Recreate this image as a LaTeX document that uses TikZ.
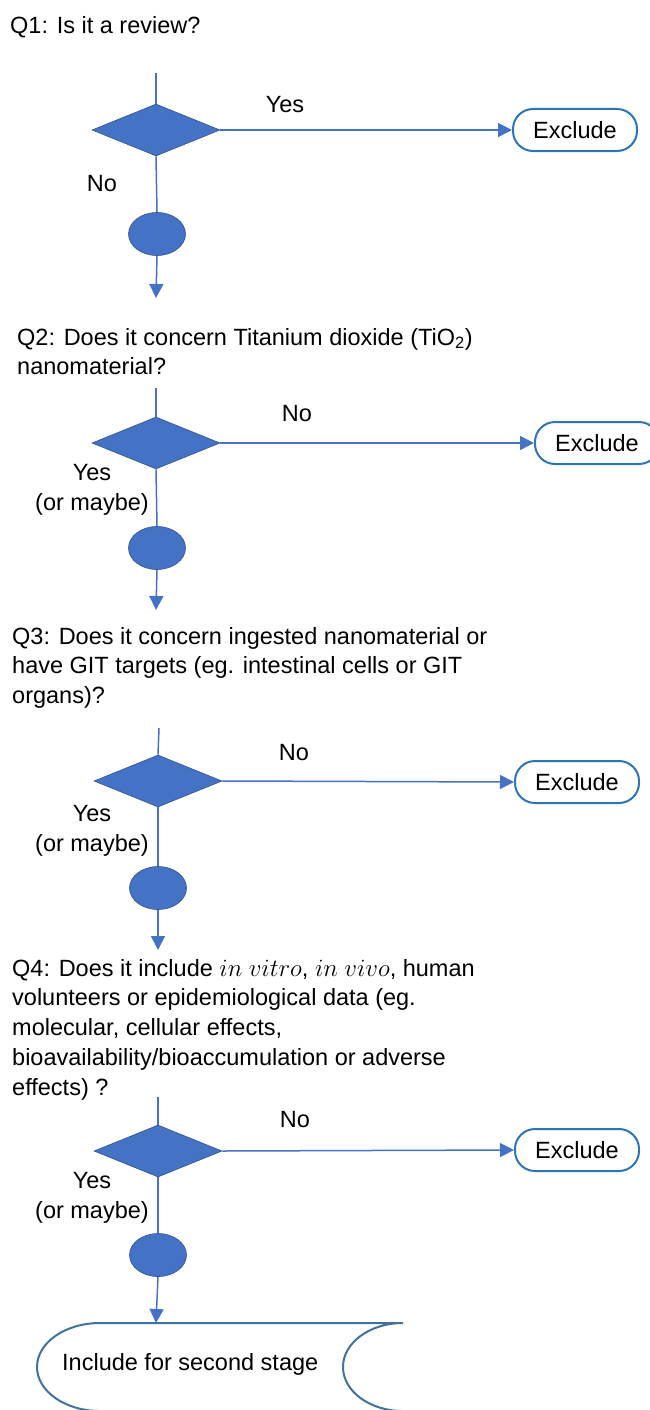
\documentclass[tikz,border=0pt]{standalone}
\usepackage{fontspec}
\setmainfont{Liberation Sans}
\usetikzlibrary{shapes.geometric,arrows.meta}
\definecolor{fillblue}{HTML}{4472C4}
\definecolor{darkblue}{HTML}{2F528F}
\definecolor{exblue}{HTML}{2E75B6}
\definecolor{stblue}{HTML}{41719C}
\begin{document}
\begin{tikzpicture}[x=1pt,y=-1pt,
  every node/.style={font=\fontsize{23.5}{29.7}\selectfont},
  qtext/.style={anchor=north west,inner sep=0pt,align=left},
  decision/.style={diamond,fill=fillblue,draw=darkblue,line width=0.6pt,inner sep=0pt,aspect=2.46,minimum width=128pt,minimum height=52pt},
  junction/.style={ellipse,fill=fillblue,draw=darkblue,line width=0.6pt,inner sep=0pt,minimum width=57pt,minimum height=43pt},
  exclude/.style={rectangle,rounded corners=20pt,draw=exblue,line width=2pt,fill=white,minimum width=124pt,minimum height=42pt,inner sep=0pt},
  lbl/.style={inner sep=0pt,align=center},
  conn/.style={draw=fillblue,line width=1.5pt},
  arr/.style={conn,-{Triangle[length=14pt,width=14pt]}}]
\path[use as bounding box] (0,0) rectangle (650,1410);
\clip (0,0) rectangle (650,1410);

% Q1
\node[qtext] (q1) at (10,16) {Q1: Is it a review?};
\coordinate (t1) at (156,73);
\node[decision] (d1) at (156,130) {};
\node[junction] (c1) at (157,234) {};
\coordinate (e1) at (156,298);
\node[exclude] (x1) at (575,130) {Exclude};
\node[lbl] (y1) at (285,105) {Yes};
\node[lbl] (n1) at (102,184) {No};
\draw[conn] (t1) -- (d1.north);
\draw[conn] (d1.south) -- (c1.north);
\draw[arr] (c1.south) -- (e1);
\draw[arr] (d1.east) -- (x1.west);

% Q2
\node[qtext] (q2) at (17,328) {Q2: Does it concern Titanium dioxide (TiO\textsubscript{2})\\nanomaterial?};
\coordinate (t2) at (156,388);
\node[decision] (d2) at (156,443) {};
\node[junction] (c2) at (157,548) {};
\coordinate (e2) at (156,610);
\node[exclude] (x2) at (597,443) {Exclude};
\node[lbl] (n2) at (297,414) {No};
\node[lbl] (y2) at (92,490) {Yes\\(or maybe)};
\draw[conn] (t2) -- (d2.north);
\draw[conn] (d2.south) -- (c2.north);
\draw[arr] (c2.south) -- (e2);
\draw[arr] (d2.east) -- (x2.west);

% Q3
\node[qtext] (q3) at (12,627) {Q3: Does it concern ingested nanomaterial or\\have GIT targets (eg. intestinal cells or GIT\\organs)?};
\coordinate (t3) at (159,728);
\node[decision] (d3) at (158,781) {};
\node[junction] (c3) at (158,888) {};
\coordinate (e3) at (158,950);
\node[exclude] (x3) at (577,782) {Exclude};
\node[lbl] (n3) at (294,753) {No};
\node[lbl] (y3) at (92,831) {Yes\\(or maybe)};
\draw[conn] (t3) -- (d3.north);
\draw[conn] (d3.south) -- (c3.north);
\draw[arr] (c3.south) -- (e3);
\draw[arr] (d3.east) -- (x3.west);

% Q4
\node[qtext] (q4) at (12,959) {Q4: Does it include $in\ vitro$, $in\ vivo$, human\\volunteers or epidemiological data (eg.\\molecular, cellular effects,\\bioavailability/bioaccumulation or adverse\\effects) ?};
\coordinate (t4) at (158,1097);
\node[decision] (d4) at (158,1151) {};
\node[junction] (c4) at (158,1255) {};
\coordinate (e4) at (156,1323);
\node[exclude] (x4) at (577,1150) {Exclude};
\node[lbl] (n4) at (295,1120) {No};
\node[lbl] (y4) at (92,1198) {Yes\\(or maybe)};
\draw[conn] (t4) -- (d4.north);
\draw[conn] (d4.south) -- (c4.north);
\draw[arr] (c4.south) -- (e4);
\draw[arr] (d4.east) -- (x4.west);

% stored data shape
\draw[draw=stblue,line width=2pt]
  (403,1323) -- (100,1323)
  arc[start angle=90,end angle=270,x radius=63pt,y radius=44pt]
  -- (403,1411)
  arc[start angle=270,end angle=90,x radius=60pt,y radius=44pt];
\node[lbl,anchor=west] (inc) at (62,1364) {Include for second stage};
\end{tikzpicture}
\end{document}
